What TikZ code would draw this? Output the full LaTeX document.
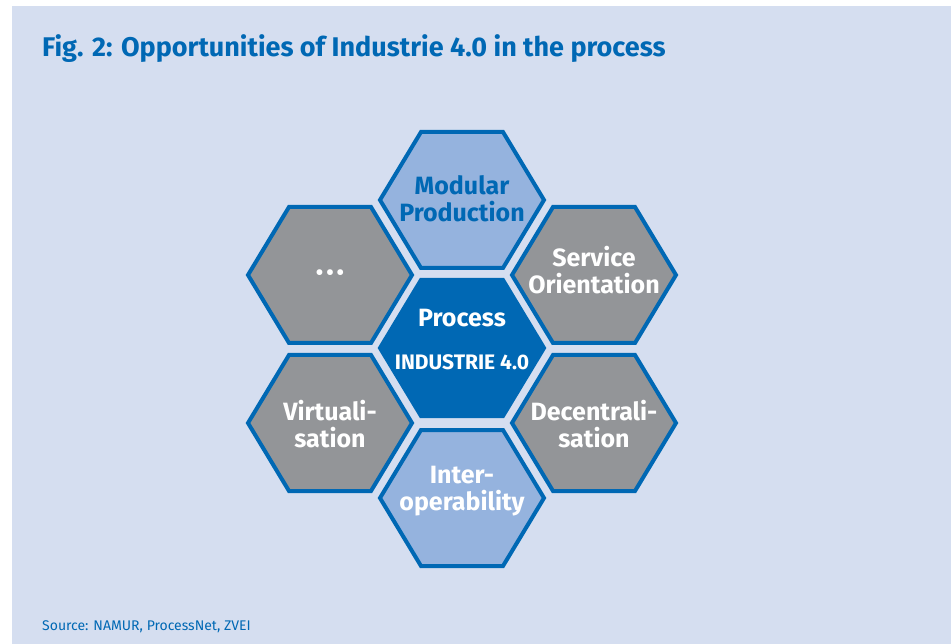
\documentclass[tikz,border=0pt]{standalone}
\usepackage{fontspec}
\setmainfont{Fira Sans}
\usepackage{tikz}

\definecolor{panelbg}{HTML}{D5DEF0}
\definecolor{namurblue}{HTML}{0068B4}
\definecolor{hexlight}{HTML}{95B3DE}
\definecolor{hexgray}{HTML}{939598}

\begin{document}
\begin{tikzpicture}[x=1pt,y=-1pt,
  hexline/.style={draw=namurblue, line width=4pt, line join=miter},
  celltext/.style={font=\fontsize{25}{27}\selectfont\bfseries, text=white, align=center, inner sep=0pt}]
\useasboundingbox (0,0) rectangle (951,644);
\fill[panelbg] (12,6) rectangle (951,644);
\node[anchor=base west, inner sep=0pt, text=namurblue, font=\fontsize{27}{27}\selectfont\bfseries] (title) at (42,57) {Fig. 2: Opportunities of Industrie 4.0 in the process};
% honeycomb
\foreach \cx/\cy/\col in {462/200/hexlight, 330/275/hexgray, 594/275/hexgray, 462/348/namurblue, 330/423/hexgray, 594/423/hexgray, 462/498/hexlight}
  \draw[hexline, fill=\col] (\cx+82,\cy) -- (\cx+41,\cy-68) -- (\cx-41,\cy-68) -- (\cx-82,\cy) -- (\cx-41,\cy+68) -- (\cx+41,\cy+68) -- cycle;
\node[celltext, text=namurblue] (modular) at (462,199) {Modular\\Production};
\node[celltext, font=\fontsize{26}{26}\selectfont] (more) at (330,276) {•\kern2pt•\kern2pt•};
\node[celltext] (service) at (594,270) {Service\\Orientation};
\node[celltext] (process) at (462,318) {Process};
\node[celltext, font=\fontsize{21}{21}\selectfont\bfseries] (industrie) at (462,362) {INDUSTRIE 4.0};
\node[celltext] (virtual) at (330,424) {Virtuali-\\sation};
\node[celltext] (decentral) at (594,424) {Decentrali-\\sation};
\node[celltext] (interop) at (462,491) {Inter-\\operability};
\node[anchor=base west, inner sep=0pt, text=namurblue, font=\fontsize{14}{14}\selectfont] (source) at (42,630) {Source: NAMUR, ProcessNet, ZVEI};
\end{tikzpicture}
\end{document}
